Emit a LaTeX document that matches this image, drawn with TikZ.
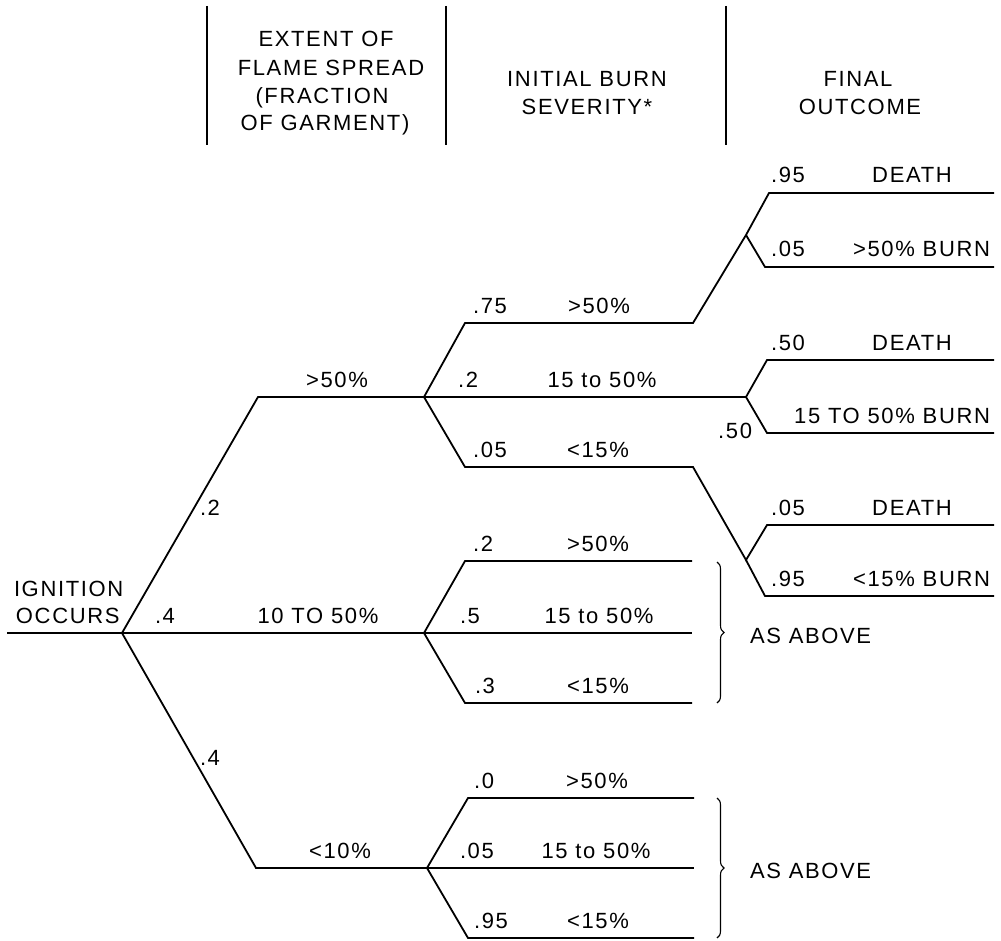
\documentclass[tikz,border=0pt]{standalone}
\usepackage{fontspec}
\setmainfont{Liberation Sans}[LetterSpace=7.5]
\usetikzlibrary{decorations.pathreplacing}
\begin{document}
\begin{tikzpicture}[x=1pt,y=-1pt,
  every node/.style={inner sep=0pt, outer sep=0pt, font=\fontsize{22}{26}\selectfont},
  lbl/.style={anchor=base west},
  cat/.style={anchor=base},
  rlbl/.style={anchor=base east},
  branch/.style={line width=1.8pt, line join=miter},
  hdr/.style={line width=1.3pt},
  brc/.style={line width=1.1pt, decorate, decoration={brace, amplitude=7pt}}]
\useasboundingbox (0,0) rectangle (1001,941);

% header separators
\coordinate (v1t) at (207,6);  \coordinate (v1b) at (207,145);
\coordinate (v2t) at (446,6);  \coordinate (v2b) at (446,145);
\coordinate (v3t) at (726,6);  \coordinate (v3b) at (726,145);
\draw[hdr] (v1t) -- (v1b);
\draw[hdr] (v2t) -- (v2b);
\draw[hdr] (v3t) -- (v3b);

% header texts
\node[cat] (h1a) at (326,47)  {EXTENT OF};
\node[cat] (h1b) at (331,76)  {FLAME SPREAD};
\node[cat] (h1c) at (322,104) {(FRACTION};
\node[cat] (h1d) at (325,131) {OF GARMENT)};
\node[cat] (h2a) at (587,87)  {INITIAL BURN};
\node[cat] (h2b) at (587,115) {SEVERITY*};
\node[cat] (h3a) at (858,87)  {FINAL};
\node[cat] (h3b) at (860,115) {OUTCOME};

% tree points
\coordinate (start) at (7,633);
\coordinate (R0) at (122,633);
\coordinate (gA) at (258,397);
\coordinate (G1) at (424,397);
\coordinate (G2) at (424,633);
\coordinate (gC) at (256,868);
\coordinate (G3) at (427,868);

\coordinate (s1a) at (465,323); \coordinate (s1b) at (693,323);
\coordinate (J1) at (746,235);
\coordinate (o1a) at (769,193); \coordinate (o1ae) at (994,193);
\coordinate (o1b) at (765,267); \coordinate (o1be) at (994,267);
\coordinate (J2) at (746,397);
\coordinate (o2a) at (767,360); \coordinate (o2ae) at (994,360);
\coordinate (o2b) at (767,433); \coordinate (o2be) at (994,433);
\coordinate (s1c) at (465,467); \coordinate (s1d) at (693,467);
\coordinate (J3) at (746,560);
\coordinate (o3a) at (767,525); \coordinate (o3ae) at (994,525);
\coordinate (o3b) at (765,596); \coordinate (o3be) at (994,596);

\coordinate (m1) at (465,561); \coordinate (m1e) at (692,561);
\coordinate (m2e) at (692,633);
\coordinate (m3) at (465,703); \coordinate (m3e) at (692,703);

\coordinate (b1) at (468,798); \coordinate (b1e) at (694,798);
\coordinate (b2e) at (694,868);
\coordinate (b3) at (468,938); \coordinate (b3e) at (694,938);

% branches
\draw[branch] (start) -- (R0) -- (G2);
\draw[branch] (R0) -- (gA) -- (G1);
\draw[branch] (R0) -- (gC) -- (G3);

\draw[branch] (G1) -- (s1a) -- (s1b) -- (J1) -- (o1a) -- (o1ae);
\draw[branch] (J1) -- (o1b) -- (o1be);
\draw[branch] (G1) -- (J2);
\draw[branch] (J2) -- (o2a) -- (o2ae);
\draw[branch] (J2) -- (o2b) -- (o2be);
\draw[branch] (G1) -- (s1c) -- (s1d) -- (J3) -- (o3a) -- (o3ae);
\draw[branch] (J3) -- (o3b) -- (o3be);

\draw[branch] (G2) -- (m1) -- (m1e);
\draw[branch] (G2) -- (m2e);
\draw[branch] (G2) -- (m3) -- (m3e);

\draw[branch] (G3) -- (b1) -- (b1e);
\draw[branch] (G3) -- (b2e);
\draw[branch] (G3) -- (b3) -- (b3e);

% braces
\coordinate (br1t) at (717,562); \coordinate (br1b) at (717,703);
\coordinate (br2t) at (717,798); \coordinate (br2b) at (717,938);
\draw[brc] (br1t) -- (br1b);
\draw[brc] (br2t) -- (br2b);

% root labels
\node[lbl] (ign) at (14,596) {IGNITION};
\node[lbl] (occ) at (16,623) {OCCURS};

% garment level
\node[lbl] (g2) at (200,515) {.2};
\node[lbl] (g4a) at (155,623) {.4};
\node[lbl] (g4b) at (200,765) {.4};
\node[cat] (gl1) at (337,387) {>50\%};
\node[cat] (gl2) at (318,623) {10 TO 50\%};
\node[cat] (gl3) at (340,858) {<10\%};

% severity level, upper group
\node[lbl] (p75) at (473,313) {.75};
\node[lbl] (p2a) at (458,387) {.2};
\node[lbl] (p05a) at (473,457) {.05};
\node[cat] (c1) at (599,313) {>50\%};
\node[cat] (c2) at (602,387) {15 to 50\%};
\node[cat] (c3) at (598,457) {<15\%};

% severity level, middle group
\node[lbl] (p2b) at (473,551) {.2};
\node[lbl] (p5b) at (460,623) {.5};
\node[lbl] (p3b) at (475,693) {.3};
\node[cat] (d1) at (598,551) {>50\%};
\node[cat] (d2) at (599,623) {15 to 50\%};
\node[cat] (d3) at (598,693) {<15\%};

% severity level, lower group
\node[lbl] (p0c) at (474,788) {.0};
\node[lbl] (p05c) at (460,858) {.05};
\node[lbl] (p95c) at (474,928) {.95};
\node[cat] (e1) at (597,788) {>50\%};
\node[cat] (e2) at (596,858) {15 to 50\%};
\node[cat] (e3) at (598,928) {<15\%};

% outcomes
\node[lbl] (q95a) at (771,183) {.95};
\node[lbl] (q05a) at (771,257) {.05};
\node[lbl] (q50a) at (771,350) {.50};
\node[rlbl] (q50b) at (752,438) {.50};
\node[lbl] (q05b) at (771,515) {.05};
\node[lbl] (q95b) at (771,586) {.95};
\node[cat] (f1) at (912,183) {DEATH};
\node[rlbl] (f2) at (990,257) {>50\% BURN};
\node[cat] (f3) at (912,350) {DEATH};
\node[rlbl] (f4) at (990,423) {15 TO 50\% BURN};
\node[cat] (f5) at (912,515) {DEATH};
\node[rlbl] (f6) at (990,586) {<15\% BURN};

% as above
\node[lbl] (as1) at (750,643) {AS ABOVE};
\node[lbl] (as2) at (750,878) {AS ABOVE};
\end{tikzpicture}
\end{document}
